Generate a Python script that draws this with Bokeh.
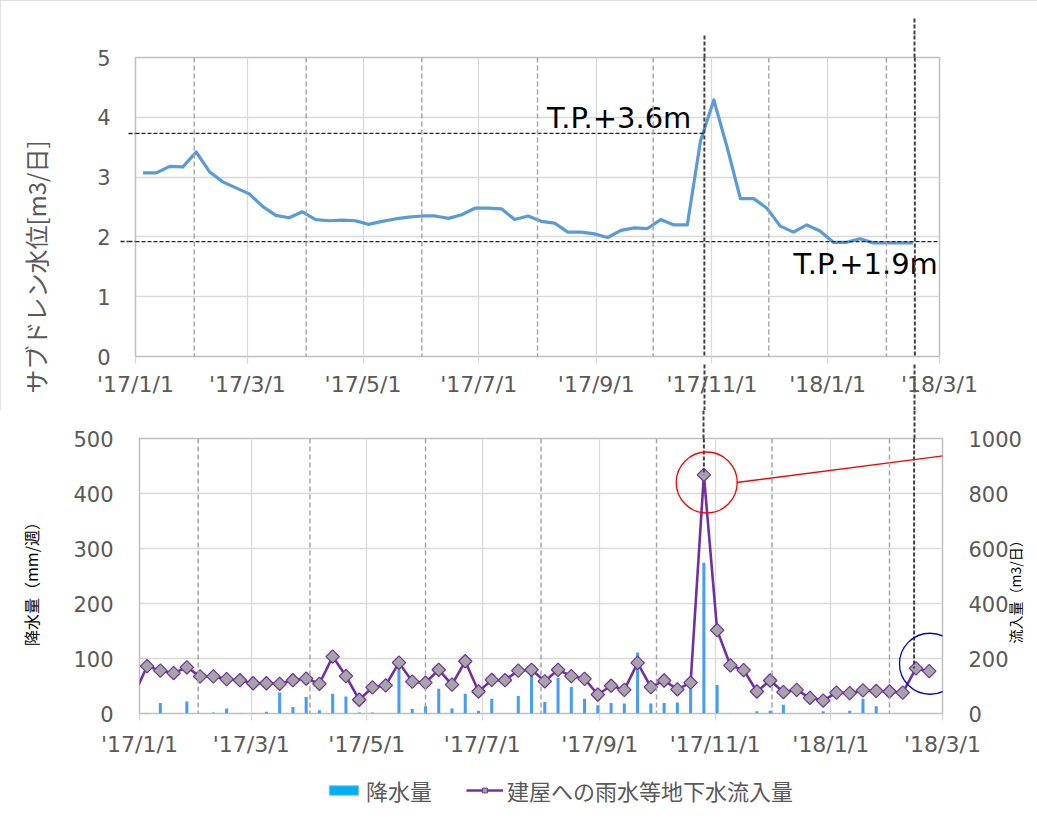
import math
import pandas as pd
from bokeh.plotting import figure
from bokeh.models import (Range1d, LinearAxis, FixedTicker, Span, Legend,
                          LegendItem, CustomJSTickFormatter)
from bokeh.embed import file_html
from bokeh.resources import INLINE

# ---------------- data ----------------
LEVEL_START = "2017-01-05"       # weekly sub-drain water level
WATER_LEVEL = [3.07, 3.07, 3.18, 3.17, 3.42, 3.09, 2.92, 2.82, 2.72, 2.51,
               2.36, 2.32, 2.42, 2.29, 2.27, 2.28, 2.27, 2.21, 2.26, 2.30,
               2.33, 2.35, 2.35, 2.31, 2.37, 2.48, 2.48, 2.47, 2.29, 2.35,
               2.26, 2.23, 2.08, 2.08, 2.05, 1.99, 2.11, 2.15, 2.14, 2.29,
               2.20, 2.20, 3.61, 4.29, 3.50, 2.64, 2.64, 2.48, 2.18, 2.08,
               2.20, 2.10, 1.91, 1.91, 1.97, 1.90, 1.90, 1.90, 1.90]

INFLOW_START = "2016-12-29"      # weekly inflow into buildings (m3/day)
INFLOW = [66, 172, 156, 147, 168, 135, 135, 125, 121, 110, 110,
          108, 121, 127, 108, 207, 136, 50, 95, 102, 185,
          116, 112, 159, 105, 190, 80, 122, 121, 156, 159,
          117, 159, 136, 126, 69, 101, 86, 184, 96, 120,
          88, 112, 868, 303, 175, 158, 80, 120, 78, 86,
          57, 47, 76, 74, 84, 82, 80, 76, 164, 154]

RAIN_START = "2017-01-05"        # weekly precipitation (mm/week)
RAIN = [1, 19, 0, 22, 0, 2, 9, 1, 1, 3,
        38, 12, 30, 6, 36, 31, 2, 2, 0, 85,
        8, 13, 45, 9, 36, 5, 27, 0, 32, 89,
        21, 65, 48, 27, 15, 19, 18, 111, 18, 19,
        20, 44, 274, 52, 1, 0, 4, 5, 16, 0,
        0, 4, 0, 5, 27, 13, 0, 0, 0, 0]

X_START, X_END = "2017-01-01", "2018-03-01"
X_TICKS = ["2017-01-01", "2017-03-01", "2017-05-01", "2017-07-01",
           "2017-09-01", "2017-11-01", "2018-01-01", "2018-03-01"]
X_TICK_LABELS = ["'17/1/1", "'17/3/1", "'17/5/1", "'17/7/1",
                 "'17/9/1", "'17/11/1", "'18/1/1", "'18/3/1"]
MONTH_MARKS = ["2017-02-01", "2017-04-01", "2017-06-01", "2017-08-01",
               "2017-10-01", "2017-12-01", "2018-02-01"]
LEVEL_TICKS = [0, 1, 2, 3, 4, 5]
RAIN_TICKS = [0, 100, 200, 300, 400, 500]
INFLOW_TICKS = [0, 200, 400, 600, 800, 1000]

TP_LEVELS = [3.73, 1.92]
TP_LABELS = ["T.P.+3.6m", "T.P.+1.9m"]
EVENT_DATES_TOP = ["2017-10-28", "2018-02-16"]
EVENT_DATES_BOTTOM = ["2017-10-26", "2018-02-14"]

TITLE_LEVEL = "サブドレン水位[m3/日]"
TITLE_RAIN = "降水量（mm/週）"
TITLE_INFLOW = "流入量（m3/日）"
NAME_RAIN = "降水量"
NAME_INFLOW = "建屋への雨水等地下水流入量"

# ---------------- helpers ----------------
DAY = 86400000.0


def ms(d):
    return pd.Timestamp(d).value / 1e6


level_dates = pd.date_range(LEVEL_START, periods=len(WATER_LEVEL), freq="7D")
inflow_dates = pd.date_range(INFLOW_START, periods=len(INFLOW), freq="7D")
rain_dates = pd.date_range(RAIN_START, periods=len(RAIN), freq="7D")

tick_vals = [ms(t) for t in X_TICKS]
tick_overrides = {v: lab for v, lab in zip(tick_vals, X_TICK_LABELS)}

NUM_FONT = "DejaVu Sans"
JP_FONT = "Noto Sans CJK JP"
GREY_TXT = "#595959"
GRID = "#D9D9D9"
EVENT_COLOR = "#404040"
TP_COLOR = "#262626"
RAIN_COLOR = "#479DF5"
RAIN_KEY_COLOR = "#00B0F0"
INFLOW_COLOR = "#7030A0"
MARKER_FILL = "#A5A5A5"
W = 1037


def tick_axis(ticks, length, color, dash, width, **kw):
    """Axis that only draws (dashed) tick marks: used to extend marker lines
    outside of the plotting frame."""
    ax = LinearAxis(ticker=FixedTicker(ticks=ticks),
                    formatter=CustomJSTickFormatter(code="return ''"), **kw)
    ax.axis_line_color = None
    ax.major_tick_in = 0
    ax.major_tick_out = length
    ax.major_tick_line_color = color
    ax.major_tick_line_dash = dash
    ax.major_tick_line_width = width
    ax.minor_tick_line_color = None
    ax.major_label_standoff = 0
    ax.major_label_text_font_size = "0px"
    return ax


def style_frame(p):
    p.outline_line_color = "#BFBFBF"
    p.outline_line_width = 1.5
    p.background_fill_color = "white"
    p.border_fill_color = "white"
    p.xgrid.ticker = FixedTicker(ticks=tick_vals)
    p.xgrid.grid_line_color = GRID
    p.xgrid.grid_line_width = 1.3
    p.ygrid.grid_line_color = GRID
    p.ygrid.grid_line_width = 1.3
    for m in MONTH_MARKS:
        p.add_layout(Span(location=ms(m), dimension="height", line_color="#A6A6A6",
                          line_dash="5 3", line_width=1.5))


def style_x(xa, tick_out, standoff):
    xa.ticker = FixedTicker(ticks=tick_vals)
    xa.major_label_overrides = tick_overrides
    xa.axis_line_color = None
    xa.major_tick_in = 0
    xa.major_tick_out = tick_out
    xa.major_tick_line_color = GRID
    xa.major_tick_line_width = 1.3
    xa.minor_tick_line_color = None
    xa.major_label_text_font = NUM_FONT
    xa.major_label_text_font_size = "22px"
    xa.major_label_text_color = GREY_TXT
    xa.major_label_standoff = standoff


def style_y(ya, ticks, standoff):
    ya.ticker = FixedTicker(ticks=ticks)
    ya.axis_line_color = None
    ya.major_tick_in = 0
    ya.major_tick_out = 0
    ya.minor_tick_line_color = None
    ya.major_label_text_font = NUM_FONT
    ya.major_label_text_font_size = "21px"
    ya.major_label_text_color = GREY_TXT
    ya.major_label_standoff = standoff


OUTLINE = {"outline": "1px solid #D9D9D9", "outline-offset": "-1px"}

# ---------------- top chart: water level ----------------
top = figure(width=W, height=410, x_axis_type="datetime",
             x_range=Range1d(ms(X_START), ms(X_END)), y_range=Range1d(0, 5),
             output_backend="svg", toolbar_location=None,
             min_border_left=135, min_border_right=98,
             min_border_top=57, min_border_bottom=54, styles=OUTLINE)
style_frame(top)
txa = top.xaxis[0]
style_x(txa, 0, -39)
tya = top.yaxis[0]
style_y(tya, LEVEL_TICKS, 10)
tya.axis_label = TITLE_LEVEL + "\u3000" * 5
tya.axis_label_text_font = JP_FONT
tya.axis_label_text_font_size = "24px"
tya.axis_label_text_font_style = "normal"
tya.axis_label_text_color = GREY_TXT
tya.axis_label_standoff = 41

ev_top = [ms(d) for d in EVENT_DATES_TOP]
# axes drawn closest to the frame first
top.below = [tick_axis(tick_vals, 7, GRID, "solid", 1.3),
             tick_axis(ev_top, 47, EVENT_COLOR, "4 2", 2),
             txa]
top.above = [tick_axis(ev_top, 22, EVENT_COLOR, "4 2", 2),
             tick_axis(ev_top[1:], 17, EVENT_COLOR, "4 2", 2)]
top.left = [tick_axis(TP_LEVELS, 7, TP_COLOR, "4 2", 1.3),
            tick_axis(TP_LEVELS[1:], 8, TP_COLOR, "4 2", 1.3),
            tya]

top.line(level_dates, WATER_LEVEL, line_color="#5B9BD5", line_width=3.2,
         line_join="round")

# threshold lines and event lines inside the frame
top.segment(x0=[ms(X_START), ms(X_START)], y0=TP_LEVELS,
            x1=[ev_top[0], ms(X_END)], y1=TP_LEVELS,
            line_color=TP_COLOR, line_dash="4 2", line_width=1.3)
for d in ev_top:
    top.add_layout(Span(location=d, dimension="height", line_color=EVENT_COLOR,
                        line_dash="4 2", line_width=2))

top.text(x=[ev_top[0]], y=[TP_LEVELS[0]], text=[TP_LABELS[0]],
         text_align="right", text_baseline="bottom", x_offset=-13, y_offset=2,
         text_font={"value": NUM_FONT}, text_font_size="29px", text_color="black")
top.text(x=[ev_top[1]], y=[TP_LEVELS[1]], text=[TP_LABELS[1]],
         text_align="right", text_baseline="top", x_offset=23, y_offset=5,
         text_font={"value": NUM_FONT}, text_font_size="29px", text_color="black")

# ---------------- bottom chart: rain + inflow ----------------
bot = figure(width=W, height=360, x_axis_type="datetime",
             x_range=Range1d(ms(X_START), ms(X_END)), y_range=Range1d(0, 500),
             output_backend="svg", toolbar_location=None,
             min_border_left=139, min_border_right=95,
             min_border_top=28, min_border_bottom=57)
bot.extra_y_ranges = {"inflow": Range1d(0, 1000)}
style_frame(bot)
bxa = bot.xaxis[0]
style_x(bxa, 7, 11)
bya = bot.yaxis[0]
style_y(bya, RAIN_TICKS, 26)
bya.axis_label = TITLE_RAIN + "\u3000"
bya.axis_label_text_font = JP_FONT
bya.axis_label_text_font_size = "16px"
bya.axis_label_text_font_style = "normal"
bya.axis_label_text_color = "black"
bya.axis_label_standoff = 27

ra = LinearAxis(y_range_name="inflow")
style_y(ra, INFLOW_TICKS, 26)
ra.axis_label_text_font = JP_FONT
ra.axis_label_text_font_size = "14px"
ra.axis_label_text_font_style = "normal"
ra.axis_label_text_color = "black"
ra.axis_label_standoff = -10
try:
    ra.axis_label_orientation = math.pi / 2
except Exception:
    pass
try:
    ra.axis_label_align = "start"
    ra.axis_label = "\u3000" * 5 + TITLE_INFLOW
except Exception:
    ra.axis_label = TITLE_INFLOW
bot.add_layout(ra, "right")

ev_bot = [ms(d) for d in EVENT_DATES_BOTTOM]
bot.above = [tick_axis(ev_bot, 28, EVENT_COLOR, "4 2", 2)]

bot.vbar(x=rain_dates, top=RAIN, width=1.6 * DAY, fill_color=RAIN_COLOR,
         line_color=None)
bot.line(inflow_dates, INFLOW, y_range_name="inflow",
         line_color=INFLOW_COLOR, line_width=2.6, line_join="round")
bot.scatter(inflow_dates[1:], INFLOW[1:], y_range_name="inflow",
            marker="square", angle=math.pi / 4, size=9.5,
            fill_color=MARKER_FILL, line_color=INFLOW_COLOR, line_width=1.2)

peak_i = INFLOW.index(max(INFLOW))
last_i = len(INFLOW) - 1
bot.segment(x0=ev_bot, y0=[INFLOW_TICKS[-1]] * 2, x1=ev_bot,
            y1=[INFLOW[peak_i], INFLOW[last_i - 1]], y_range_name="inflow",
            line_color=EVENT_COLOR, line_dash="4 2", line_width=2)

# highlight circles and leader lines
R_DAYS = 15.8
RED_CENTER = (ms(inflow_dates[peak_i]) + 1.5 * DAY, INFLOW[peak_i] - 28)
BLUE_CENTER = (ms(inflow_dates[last_i]) + 0.4 * DAY, INFLOW[last_i] + 27)
RED_LINK_END = (ms("2018-04-25"), 985)
BLUE_LINK_END = (ms("2018-04-25"), 390)
bot.scatter([RED_CENTER[0]], [RED_CENTER[1]], y_range_name="inflow", marker="circle",
            size=61, fill_color=None, line_color="#FF0000", line_width=1.3)
bot.scatter([BLUE_CENTER[0]], [BLUE_CENTER[1]], y_range_name="inflow", marker="circle",
            size=61, fill_color=None, line_color="#0000CC", line_width=1.3)
bot.segment(x0=[RED_CENTER[0] + R_DAYS * DAY, BLUE_CENTER[0] + R_DAYS * DAY],
            y0=[RED_CENTER[1], BLUE_CENTER[1]],
            x1=[RED_LINK_END[0], BLUE_LINK_END[0]],
            y1=[RED_LINK_END[1], BLUE_LINK_END[1]], y_range_name="inflow",
            line_color=["#FF0000", "#0000CC"], line_width=1.3)

# ---------------- legend strip under the bottom chart ----------------
leg = figure(width=W, height=65, x_range=Range1d(0, 1), y_range=Range1d(0, 1),
             output_backend="svg", toolbar_location=None, min_border=0,
             x_axis_location=None, y_axis_location=None)
leg.outline_line_color = None
leg.grid.visible = False
# key glyphs: one point each, placed outside the visible strip
key_rain = leg.vbar(x=[5], top=[5], bottom=[4], width=0.1, fill_color=RAIN_KEY_COLOR,
                    line_color="#9DC3E6")
key_line = leg.line(x=[5, 6], y=[5, 5], line_color=INFLOW_COLOR, line_width=2.6)
key_pts = leg.scatter(x=[5], y=[5], marker="square", angle=math.pi / 4,
                      fill_color=MARKER_FILL, line_color=INFLOW_COLOR, line_width=1)
legend = Legend(items=[LegendItem(label=NAME_RAIN, renderers=[key_rain]),
                       LegendItem(label=NAME_INFLOW, renderers=[key_line, key_pts])],
                location=(325, 29), orientation="horizontal",
                glyph_width=37, glyph_height=12, label_standoff=4, spacing=34,
                padding=0, margin=0, border_line_color=None,
                background_fill_alpha=0,
                label_text_font=JP_FONT, label_text_font_size="22px",
                label_text_color=GREY_TXT)
leg.add_layout(legend)

open("out.html", "w").write(file_html([top, bot, leg], INLINE))
